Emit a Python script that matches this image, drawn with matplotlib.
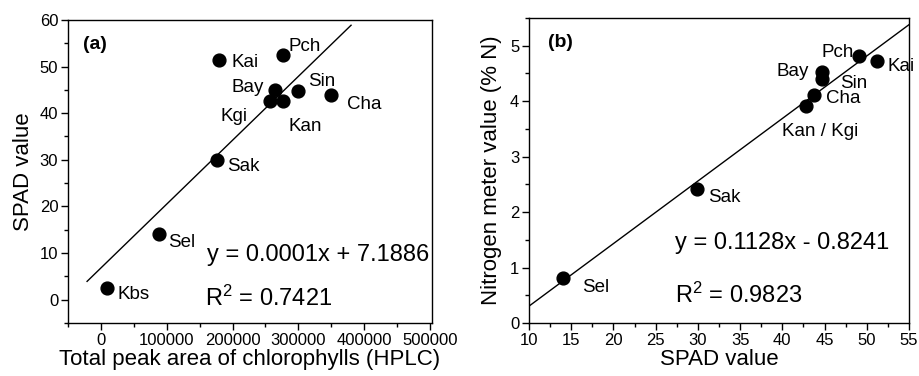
import matplotlib
matplotlib.use("Agg")
import matplotlib.pyplot as plt
import numpy as np
from matplotlib.ticker import MultipleLocator

plt.rcParams['font.family'] = ['Liberation Sans', 'DejaVu Sans']
plt.rcParams['mathtext.fontset'] = 'custom'
plt.rcParams['mathtext.rm'] = 'Liberation Sans'
plt.rcParams['mathtext.it'] = 'Liberation Sans'

# ---- Panel (a) data ----
a_names = ["Kbs", "Sel", "Sak", "Kai", "Pch", "Bay", "Kgi", "Kan", "Sin", "Cha"]
a_hplc = [10000, 88000, 177000, 179000, 276000, 265000, 257000, 277000, 300000, 350000]
a_spad = [2.6, 14.1, 30.0, 51.4, 52.5, 45.0, 42.6, 42.6, 44.7, 43.9]
a_slope, a_intercept = 0.000137, 6.8
a_line_x = [-21000, 380000]
a_eq = "y = 0.0001x + 7.1886"
a_r2 = "0.7421"
a_xticks = [0, 100000, 200000, 300000, 400000, 500000]
a_xticklabels = ["0", "100000", "200000", "300000", "400000", "500000"]

# ---- Panel (b) data ----
b_names = ["Sel", "Sak", "Kan / Kgi", "Cha", "Sin", "Bay", "Pch", "Kai"]
b_spad = [14.0, 29.9, 42.8, 43.75, 44.65, 44.65, 49.1, 51.25]
b_nitro = [0.81, 2.42, 3.91, 4.12, 4.40, 4.53, 4.82, 4.73]
b_slope, b_intercept = 0.1128, -0.8241
b_line_x = [10, 55]
b_eq = "y = 0.1128x - 0.8241"
b_r2 = "0.9823"

# label offsets in points (dx, dy, ha)
a_off = {"Kbs": (7, -5, 'left'), "Sel": (7, -6, 'left'), "Sak": (7, -5, 'left'),
         "Kai": (9, -2, 'left'), "Pch": (4, 6, 'left'), "Bay": (-8, 2, 'right'),
         "Kgi": (-16, -11, 'right'), "Kan": (4, -18, 'left'), "Sin": (7, 7, 'left'),
         "Cha": (11, -7, 'left')}
b_off = {"Sel": (14, -7, 'left'), "Sak": (8, -6, 'left'), "Kan / Kgi": (10, -18, 'center'),
         "Cha": (9, -3, 'left'), "Sin": (13, -3, 'left'), "Bay": (-9, 0, 'right'),
         "Pch": (-4, 2, 'right'), "Kai": (7, -4, 'left')}

fig = plt.figure(figsize=(9.2, 3.76), dpi=100)
ax1 = fig.add_axes([0.0739, 0.141, 0.3957, 0.806])
ax2 = fig.add_axes([0.575, 0.141, 0.413, 0.811])

def style(ax):
    for s in ax.spines.values():
        s.set_linewidth(1.0)
    ax.tick_params(which='both', direction='out', labelsize=12, top=False, right=False)
    ax.tick_params(which='major', length=5, width=1, pad=2)
    ax.tick_params(which='minor', length=3, width=1)

# Panel a
ax1.scatter(a_hplc, a_spad, s=85, c='black', zorder=3)
lx = np.array(a_line_x)
ax1.plot(lx, a_slope * lx + a_intercept, color='black', lw=1)
for n, x, y in zip(a_names, a_hplc, a_spad):
    dx, dy, ha = a_off[n]
    ax1.annotate(n, (x, y), xytext=(dx, dy), textcoords='offset points',
                 ha=ha, va='center', fontsize=13.5)
ax1.set_xlim(-50000, 503000)
ax1.set_ylim(-5, 60)
ax1.xaxis.set_minor_locator(MultipleLocator(50000))
ax1.yaxis.set_major_locator(MultipleLocator(10))
ax1.yaxis.set_minor_locator(MultipleLocator(5))
ax1.set_xticks(a_xticks)
ax1.set_xticklabels(a_xticklabels)
style(ax1)
ax1.set_xlabel("Total peak area of chlorophylls (HPLC)", fontsize=16, labelpad=1)
ax1.set_ylabel("SPAD value", fontsize=16, labelpad=4)
ax1.text(0.04, 0.92, "(a)", transform=ax1.transAxes, fontsize=14, fontweight='bold', va='center')
ax1.text(0.382, 0.224, a_eq, transform=ax1.transAxes, fontsize=17, va='center')
ax1.text(0.375, 0.08, "R$^2$ = " + a_r2, transform=ax1.transAxes, fontsize=17, va='center')

# Panel b
ax2.scatter(b_spad, b_nitro, s=85, c='black', zorder=3)
lx = np.array(b_line_x)
ax2.plot(lx, b_slope * lx + b_intercept, color='black', lw=1)
for n, x, y in zip(b_names, b_spad, b_nitro):
    dx, dy, ha = b_off[n]
    ax2.annotate(n, (x, y), xytext=(dx, dy), textcoords='offset points',
                 ha=ha, va='center', fontsize=13.5)
ax2.set_xlim(10, 55)
ax2.set_ylim(0, 5.5)
ax2.xaxis.set_major_locator(MultipleLocator(5))
ax2.xaxis.set_minor_locator(MultipleLocator(2.5))
ax2.yaxis.set_major_locator(MultipleLocator(1))
ax2.yaxis.set_minor_locator(MultipleLocator(0.5))
style(ax2)
ax2.set_xlabel("SPAD value", fontsize=16, labelpad=1)
ax2.set_ylabel("Nitrogen meter value (% N)", fontsize=16, labelpad=6)
ax2.text(0.05, 0.92, "(b)", transform=ax2.transAxes, fontsize=14, fontweight='bold', va='center')
ax2.text(0.384, 0.262, b_eq, transform=ax2.transAxes, fontsize=17, va='center')
ax2.text(0.384, 0.09, "R$^2$ = " + b_r2, transform=ax2.transAxes, fontsize=17, va='center')

fig.savefig("out.png", dpi=100)
